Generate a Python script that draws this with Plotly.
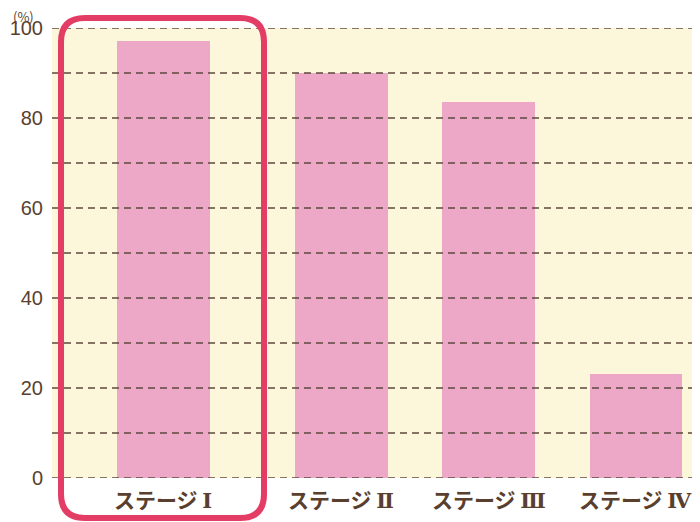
import plotly.graph_objects as go

categories = ["ステージⅠ", "ステージⅡ", "ステージⅢ", "ステージⅣ"]
survival = [97.1, 90.0, 83.6, 23.1]
y_ticks = [0, 20, 40, 60, 80, 100]
grid_vals = [0, 10, 20, 30, 40, 50, 60, 70, 80, 90, 100]

BROWN = "#5a3f2f"
GRID = "#5e4a3c"
CREAM = "#fcf7da"
PINK = "#eda8c8"
RED = "#e33d65"
FONT = "Noto Sans CJK JP"

fig = go.Figure()
fig.add_trace(go.Bar(
    x=categories, y=survival,
    marker=dict(color=PINK, line=dict(width=0)),
    width=0.63,
    offset=[-0.315 - 0.21, -0.315, -0.315, -0.315],
    hoverinfo="skip",
))

shapes = []
for v in grid_vals:
    shapes.append(dict(type="line", xref="paper", yref="y", x0=0, x1=1, y0=v, y1=v,
                       line=dict(color=GRID, width=1.4, dash="7px,5px"), layer="above"))

# page has 8px body margin: screen coords -> paper coords
W, H = 648.0, 450.0
def px(x):
    return (x - 52) / W
def py(y):
    return (478 - y) / H
x0, x1, y0, y1, r = 61, 264, 18, 518, 24
path = (f"M {px(x0+r)},{py(y0)} L {px(x1-r)},{py(y0)} Q {px(x1)},{py(y0)} {px(x1)},{py(y0+r)} "
        f"L {px(x1)},{py(y1-r)} Q {px(x1)},{py(y1)} {px(x1-r)},{py(y1)} "
        f"L {px(x0+r)},{py(y1)} Q {px(x0)},{py(y1)} {px(x0)},{py(y1-r)} "
        f"L {px(x0)},{py(y0+r)} Q {px(x0)},{py(y0)} {px(x0+r)},{py(y0)} Z")
shapes.append(dict(type="path", xref="paper", yref="paper", path=path,
                   line=dict(color=RED, width=6), layer="above"))

annotations = []
for i, c in enumerate(categories):
    kana, numeral = c[:-1], c[-1]
    label = f"{kana} <span style='font-family:DejaVu Serif'>{numeral}</span>"
    annotations.append(dict(x=c, y=0, xref="x", yref="y", text=f"<b>{label}</b>", showarrow=False,
                            xanchor="center", yanchor="top", yshift=-4, xshift=-31 if i == 0 else 0,
                            font=dict(family=FONT, size=21, color=BROWN)))
annotations.append(dict(x=px(23), y=py(16), xref="paper", yref="paper", text="(%)",
                        xanchor="center", yanchor="middle",
                        showarrow=False, font=dict(family=FONT, size=13, color=BROWN)))

fig.update_layout(
    width=692, height=514,
    margin=dict(l=44, r=0, t=20, b=44),
    paper_bgcolor="white", plot_bgcolor=CREAM,
    showlegend=False, bargap=0,
    shapes=shapes, annotations=annotations,
    xaxis=dict(type="category", range=[-0.965, 3.435], showticklabels=False,
               showgrid=False, zeroline=False, showline=False, ticks=""),
    yaxis=dict(range=[0, 100], tickvals=y_ticks, showgrid=False, zeroline=False,
               showline=False, ticks="", ticklabelstandoff=8,
               tickfont=dict(family="Liberation Sans", size=20, color=BROWN)),
)

fig.write_html("out.html")
